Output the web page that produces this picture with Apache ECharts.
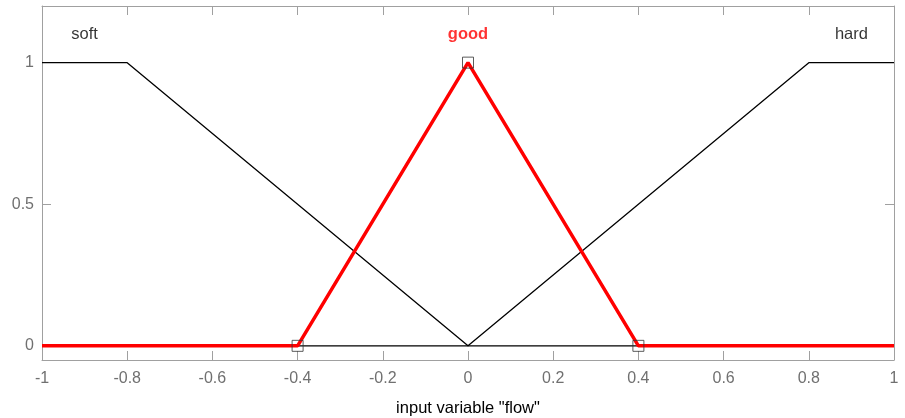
<!DOCTYPE html>
<html>
<head>
<meta charset="utf-8">
<title>flow</title>
<script src="https://cdn.jsdelivr.net/npm/echarts@6/dist/echarts.min.js"></script>
<style>
  html, body { margin: 0; padding: 0; background: #fff; }
  #main { width: 905px; height: 418px; }
</style>
</head>
<body>
<div id="main"></div>
<script>
// membership functions of input variable "flow"
var softPts = [[-1, 1], [-0.8, 1], [0, 0], [1, 0]];
var hardPts = [[-1, 0], [0, 0], [0.8, 1], [1, 1]];
var goodPts = [[-1, 0], [-0.4, 0], [0, 1], [0.4, 0], [1, 0]];
var goodVertices = [[-0.4, 0], [0, 1], [0.4, 0]];
var mfNames = ['soft', 'good', 'hard'];
var mfLabelPos = [[-0.9, 1.1], [0, 1.1], [0.9, 1.1]];
var yTicks = [0, 0.5, 1];

var chart = echarts.init(document.getElementById('main'));
var font = 'Arial, "Liberation Sans", sans-serif';
var boxColor = '#a0a0a0';

var option = {
  animation: false,
  grid: { left: 42, right: 11, top: 6, bottom: 58, outerBoundsMode: 'none', containLabel: false },
  xAxis: [{
    type: 'value', min: -1, max: 1, interval: 0.2,
    name: 'input variable "flow"', nameLocation: 'middle', nameGap: 40,
    nameTextStyle: { color: '#000', fontSize: 16.5, fontFamily: font },
    axisLine: { onZero: false, lineStyle: { color: boxColor } },
    axisTick: { inside: true, length: 9, lineStyle: { color: boxColor } },
    axisLabel: {
      color: '#707070', fontSize: 16, fontFamily: font, margin: 11,
      formatter: function (v) { return String(Math.round(v * 10) / 10); }
    },
    splitLine: { show: false }
  }, {
    type: 'value', min: -1, max: 1, interval: 0.2, position: 'top',
    axisLine: { onZero: false, lineStyle: { color: boxColor } },
    axisTick: { inside: true, length: 9, lineStyle: { color: boxColor } },
    axisLabel: { show: false }, splitLine: { show: false }
  }],
  yAxis: [{
    type: 'value', min: -0.05, max: 1.2,
    axisLine: { show: true, onZero: false, lineStyle: { color: boxColor } },
    axisTick: { show: true, inside: true, length: 9, customValues: yTicks, lineStyle: { color: boxColor } },
    axisLabel: { color: '#707070', fontSize: 16, fontFamily: font, margin: 8, customValues: yTicks },
    splitLine: { show: false }
  }, {
    type: 'value', min: -0.05, max: 1.2, position: 'right',
    axisLine: { show: true, onZero: false, lineStyle: { color: boxColor } },
    axisTick: { show: true, inside: true, length: 9, customValues: yTicks, lineStyle: { color: boxColor } },
    axisLabel: { show: false }, splitLine: { show: false }
  }],
  series: [{
    type: 'line', data: softPts, showSymbol: false, z: 2,
    lineStyle: { color: '#000', width: 1.3 }
  }, {
    type: 'line', data: hardPts, showSymbol: false, z: 2,
    lineStyle: { color: '#000', width: 1.3 }
  }, {
    type: 'line', data: goodPts, showSymbol: false, z: 3,
    lineStyle: { color: '#ff0000', width: 3.5 }
  }, {
    type: 'scatter', data: goodVertices, symbol: 'rect', symbolSize: 11, z: 4,
    itemStyle: { color: 'rgba(0,0,0,0)', borderColor: '#333', borderWidth: 1 }
  }, {
    type: 'scatter', symbolSize: 0, z: 5,
    data: mfNames.map(function (n, i) {
      return {
        value: mfLabelPos[i],
        label: {
          show: true, position: 'inside', formatter: n,
          color: n === 'good' ? '#ff0000' : '#000',
          fontWeight: n === 'good' ? 'bold' : 'normal',
          fontSize: 16.5, fontFamily: font
        }
      };
    })
  }]
};
chart.setOption(option);
</script>
</body>
</html>
